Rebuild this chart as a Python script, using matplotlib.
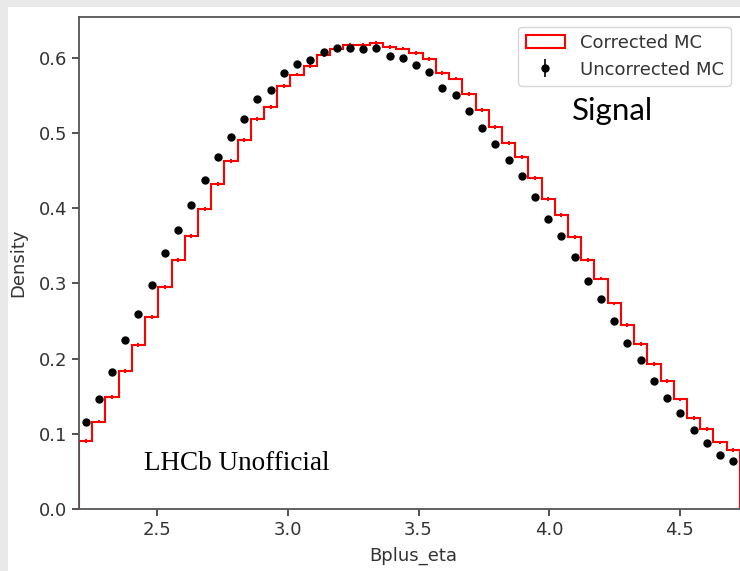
import numpy as np
import matplotlib
matplotlib.use("Agg")
import matplotlib.pyplot as plt
from matplotlib.patches import Rectangle

# ---------------- data ----------------
eta_lo, eta_hi, n_bins = 2.2, 4.73, 50

corrected_mc = [
    0.0906, 0.1163, 0.1487, 0.1838, 0.2184, 0.2552, 0.2956, 0.3316, 0.3635, 0.3995,
    0.4328, 0.4625, 0.4905, 0.5189, 0.5348, 0.5624, 0.5779, 0.5890, 0.6036, 0.6121,
    0.6170, 0.6178, 0.6200, 0.6147, 0.6125, 0.6067, 0.5988, 0.5801, 0.5726, 0.5521,
    0.5305, 0.5085, 0.4872, 0.4685, 0.4405, 0.4125, 0.3910, 0.3620, 0.3310, 0.3065,
    0.2735, 0.2450, 0.2200, 0.1925, 0.1705, 0.1457, 0.1215, 0.1065, 0.0885, 0.0785,
]

uncorrected_mc = [
    0.1163, 0.1465, 0.1820, 0.2246, 0.2597, 0.2974, 0.3400, 0.3715, 0.4039, 0.4376,
    0.4678, 0.4944, 0.5189, 0.5459, 0.5579, 0.5797, 0.5921, 0.5979, 0.6085, 0.6134,
    0.6134, 0.6116, 0.6134, 0.6023, 0.5996, 0.5903, 0.5814, 0.5601, 0.5513, 0.5300,
    0.5069, 0.4856, 0.4638, 0.4425, 0.4146, 0.3862, 0.3626, 0.3347, 0.3027, 0.2792,
    0.2503, 0.2206, 0.1980, 0.1700, 0.1480, 0.1275, 0.1045, 0.0883, 0.0725, 0.0635,
]

xticks = [2.5, 3.0, 3.5, 4.0, 4.5]
yticks = [0.0, 0.1, 0.2, 0.3, 0.4, 0.5, 0.6]

# ---------------- figure ----------------
W, H = 740, 571
fig = plt.figure(figsize=(W / 100, H / 100), dpi=100)
fig.patch.set_facecolor("white")

# axes placement (pixel based)
px_per_unit = 261.2
x_left_px, y_bot_px, y_top_px = 79, 509, 17
xmin, xmax = 2.2, 4.76
ax = fig.add_axes([x_left_px / W, (H - y_bot_px) / H,
                   (xmax - xmin) * px_per_unit / W, (y_bot_px - y_top_px) / H])

edges = np.linspace(eta_lo, eta_hi, n_bins + 1)
centers = 0.5 * (edges[:-1] + edges[1:])

ax.hist(edges[:-1], bins=edges, weights=corrected_mc, histtype="step",
        color="red", lw=1.5, label="Corrected MC")
ax.errorbar(centers, corrected_mc, yerr=0.0025, fmt="none", ecolor="red",
            elinewidth=1.4)
ax.errorbar(centers, uncorrected_mc, yerr=0.002, fmt="o", color="black",
            markersize=5.0, elinewidth=1.2, label="Uncorrected MC")

ax.set_xlim(xmin, xmax)
ax.set_ylim(0, 0.6545)
ax.set_xticks(xticks)
ax.set_yticks(yticks)
ax.tick_params(labelsize=13, colors="#333333", width=1.2, length=5)
for s in ax.spines.values():
    s.set_color("#555555")
    s.set_linewidth(1.3)

ax.set_xlabel("Bplus_eta", fontsize=13, color="#333333", labelpad=6)
ax.set_ylabel("Density", fontsize=13, color="#333333", labelpad=8)

leg = ax.legend(loc="upper right", bbox_to_anchor=(731 / W, 1 - 26.5 / H),
                bbox_transform=fig.transFigure, borderaxespad=0,
                fontsize=13, frameon=True, handlelength=2.2)
for t in leg.get_texts():
    t.set_color("#333333")

fig.text(572 / W, 1 - 120 / H, "Signal", fontsize=22.5, family="Lato",
         color="black", ha="left", va="baseline")
fig.text(144 / W, 1 - 470 / H, "LHCb Unofficial", fontsize=19.5,
         family="Liberation Serif", color="black", ha="left", va="baseline")

# light grey frame of the screenshot (top and left strips)
fig.patches.append(Rectangle((0, 1 - 7 / H), 1, 7 / H, transform=fig.transFigure,
                             facecolor="#e9e9e9", edgecolor="none", zorder=10))
fig.patches.append(Rectangle((0, 0), 8 / W, 1, transform=fig.transFigure,
                             facecolor="#e9e9e9", edgecolor="none", zorder=10))

fig.savefig("out.png", dpi=100)
